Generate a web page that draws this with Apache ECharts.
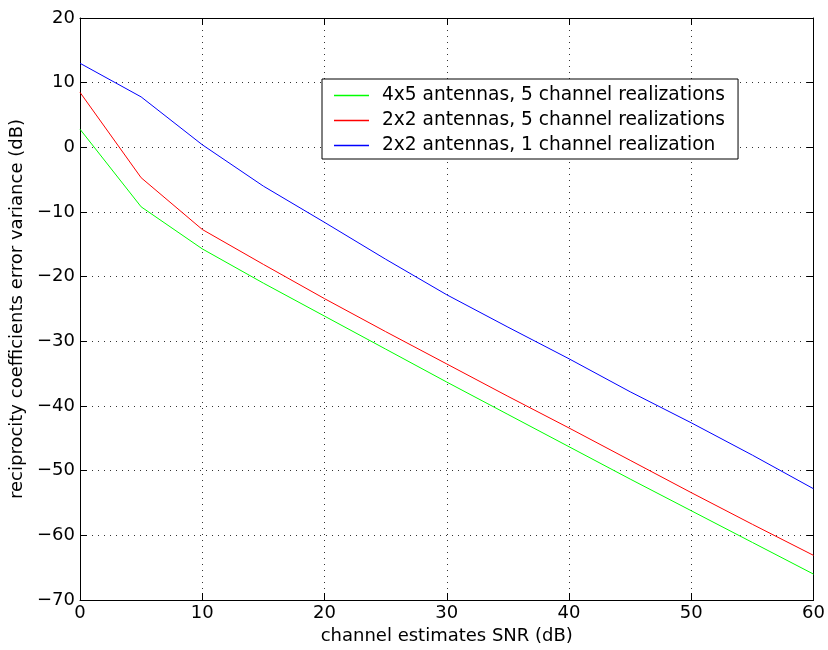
<!DOCTYPE html>
<html>
<head>
<meta charset="utf-8">
<script src="https://cdn.jsdelivr.net/npm/echarts@6/dist/echarts.min.js"></script>
<style>html,body{margin:0;padding:0;background:#fff;}#c{width:828px;height:650px;}</style>
</head>
<body>
<div id="c"></div>
<script>
const snr = [0, 5, 10, 15, 20, 25, 30, 35, 40, 45, 50, 55, 60];
const green4x5 = [2.8, -9.2, -15.7, -21.0, -26.1, -31.2, -36.3, -41.3, -46.3, -51.3, -56.2, -61.1, -66.0];
const red2x2 = [8.5, -4.7, -12.7, -18.1, -23.4, -28.5, -33.5, -38.5, -43.4, -48.4, -53.4, -58.3, -63.1];
const blue2x2 = [13.0, 7.8, 0.4, -6.0, -11.6, -17.3, -22.8, -27.8, -32.7, -37.8, -42.6, -47.6, -52.8];
const seriesNames = ['4x5 antennas, 5 channel realizations', '2x2 antennas, 5 channel realizations', '2x2 antennas, 1 channel realization'];
const xTitle = 'channel estimates SNR (dB)';
const yTitle = 'reciprocity coefficients error variance (dB)';

const FONT = 'DejaVu Sans';
const pair = (xs, ys) => xs.map((x, i) => [x, ys[i]]);
const gridLine = { show: true, lineStyle: { color: '#333', type: [1, 5], width: 1 } };
const chart = echarts.init(document.getElementById('c'), null, { renderer: 'canvas' });
const mkSeries = (name, data, color) => ({
  name, type: 'line', data, symbol: 'none', smooth: false,
  lineStyle: { color, width: 1 }, itemStyle: { color }, animation: false
});
chart.setOption({
  animation: false,
  backgroundColor: '#fff',
  grid: { left: 80, top: 18, right: 12, bottom: 50, containLabel: false },
  legend: {
    orient: 'vertical', left: 322, top: 79,
    data: seriesNames.map(n => ({ name: n, icon: 'rect' })),
    itemWidth: 35, itemHeight: 1.5, itemGap: 6,
    padding: [7, 13, 4, 12],
    borderColor: '#000', borderWidth: 1, backgroundColor: '#fff',
    textStyle: { fontFamily: FONT, fontSize: 18.6, color: '#000', lineHeight: 18, padding: [0, 0, 0, 8] }
  },
  xAxis: [{
    type: 'value', min: 0, max: 60, interval: 10, position: 'bottom',
    name: xTitle, nameLocation: 'middle', nameGap: 21,
    nameTextStyle: { fontFamily: FONT, fontSize: 18, color: '#000' },
    axisLine: { show: true, onZero: false, lineStyle: { color: '#000', width: 1 } },
    axisTick: { show: true, inside: true, length: 7, lineStyle: { color: '#000' } },
    axisLabel: { fontFamily: FONT, fontSize: 18, color: '#000', margin: 4 },
    splitLine: gridLine
  }, {
    type: 'value', min: 0, max: 60, interval: 10, position: 'top',
    axisLine: { show: true, onZero: false, lineStyle: { color: '#000', width: 1 } },
    axisTick: { show: true, inside: true, length: 7, lineStyle: { color: '#000' } },
    axisLabel: { show: false }, splitLine: { show: false }
  }],
  yAxis: [{
    type: 'value', min: -70, max: 20, interval: 10, position: 'left',
    name: yTitle, nameLocation: 'middle', nameGap: 54, nameRotate: 90,
    nameTextStyle: { fontFamily: FONT, fontSize: 18, color: '#000' },
    axisLine: { show: true, onZero: false, lineStyle: { color: '#000', width: 1 } },
    axisTick: { show: true, inside: true, length: 7, lineStyle: { color: '#000' } },
    axisLabel: { fontFamily: FONT, fontSize: 18, color: '#000', margin: 5,
      formatter: v => String(v).replace('-', '\u2212') },
    splitLine: gridLine
  }, {
    type: 'value', min: -70, max: 20, interval: 10, position: 'right',
    axisLine: { show: true, onZero: false, lineStyle: { color: '#000', width: 1 } },
    axisTick: { show: true, inside: true, length: 7, lineStyle: { color: '#000' } },
    axisLabel: { show: false }, splitLine: { show: false }
  }],
  series: [
    mkSeries(seriesNames[0], pair(snr, green4x5), '#00ff00'),
    mkSeries(seriesNames[1], pair(snr, red2x2), '#ff0000'),
    mkSeries(seriesNames[2], pair(snr, blue2x2), '#0000ff')
  ]
});
</script>
</body>
</html>
